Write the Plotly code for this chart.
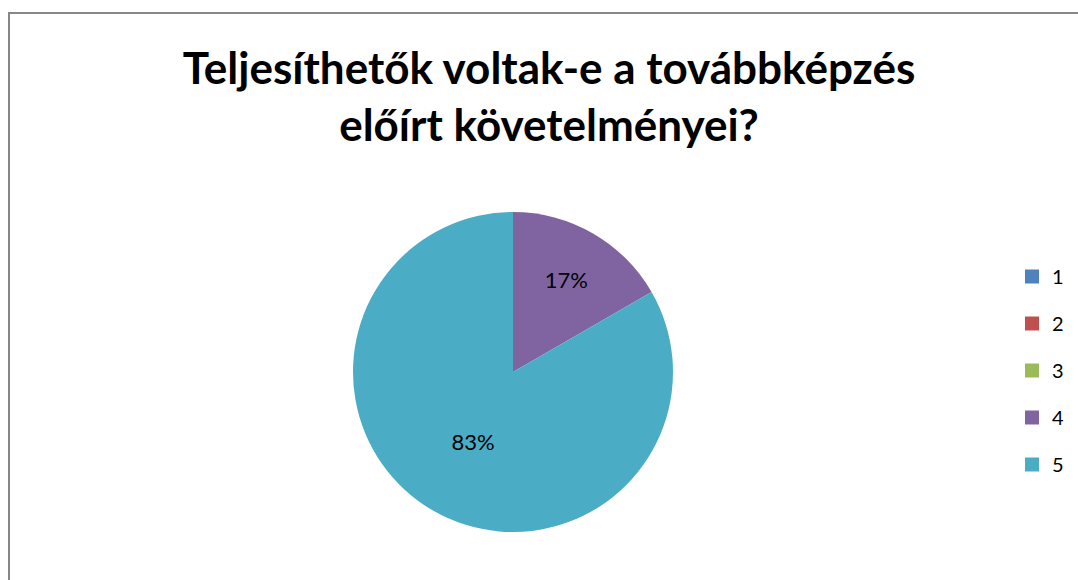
import plotly.graph_objects as go

categories = ["1", "2", "3", "4", "5"]
values = [0, 0, 0, 1, 5]
colors = ["#4F81BD", "#C0504D", "#9BBB59", "#8064A2", "#4BACC6"]
title_lines = ["Teljesíthetők voltak-e a továbbképzés", "előírt követelményei?"]

W, H = 1078, 580
fig = go.Figure()
fig.add_trace(go.Pie(
    labels=categories,
    values=values,
    marker=dict(colors=colors, line=dict(width=0)),
    sort=False,
    direction="clockwise",
    rotation=0,
    textposition="inside",
    insidetextorientation="horizontal",
    texttemplate="%{percent:.0%}",
    textfont=dict(family="Lato", size=22, color="#000000"),
    domain=dict(x=[353 / W, 673 / W], y=[(H - 532) / H, (H - 212) / H]),
    showlegend=False,
    hoverinfo="label+percent",
))

# legend entries (one per category)
for cat, col in zip(categories, colors):
    fig.add_trace(go.Scatter(
        x=[None], y=[None], mode="markers", name=cat, legendgroup=cat,
        marker=dict(symbol="square", size=14, color=col),
        showlegend=True, hoverinfo="skip",
    ))

fig.update_layout(
    width=W, height=H,
    margin=dict(l=0, r=0, t=0, b=0, autoexpand=False),
    paper_bgcolor="white",
    plot_bgcolor="white",
    xaxis=dict(visible=False),
    yaxis=dict(visible=False),
    title=dict(
        text="<br>".join(title_lines),
        x=549 / W, xanchor="center",
        y=1 - 84 / H, yanchor="top",
        font=dict(family="Lato", size=44, color="#000000", weight="bold"),
    ),
    legend=dict(
        x=1012 / W, xanchor="left",
        y=1 - 257 / H, yanchor="top",
        font=dict(family="Lato", size=20, color="#000000"),
        tracegroupgap=18,
        itemwidth=30,
        bgcolor="rgba(0,0,0,0)",
    ),
    shapes=[
        dict(type="rect", xref="paper", yref="paper",
             x0=9 / W, x1=1.02, y0=-0.02, y1=1 - 13 / H,
             line=dict(color="#878787", width=2)),
    ],
)

fig.write_html(
    "out.html",
    config={"displayModeBar": False},
    post_script="document.body.style.margin='0';document.body.style.overflow='hidden';",
)
